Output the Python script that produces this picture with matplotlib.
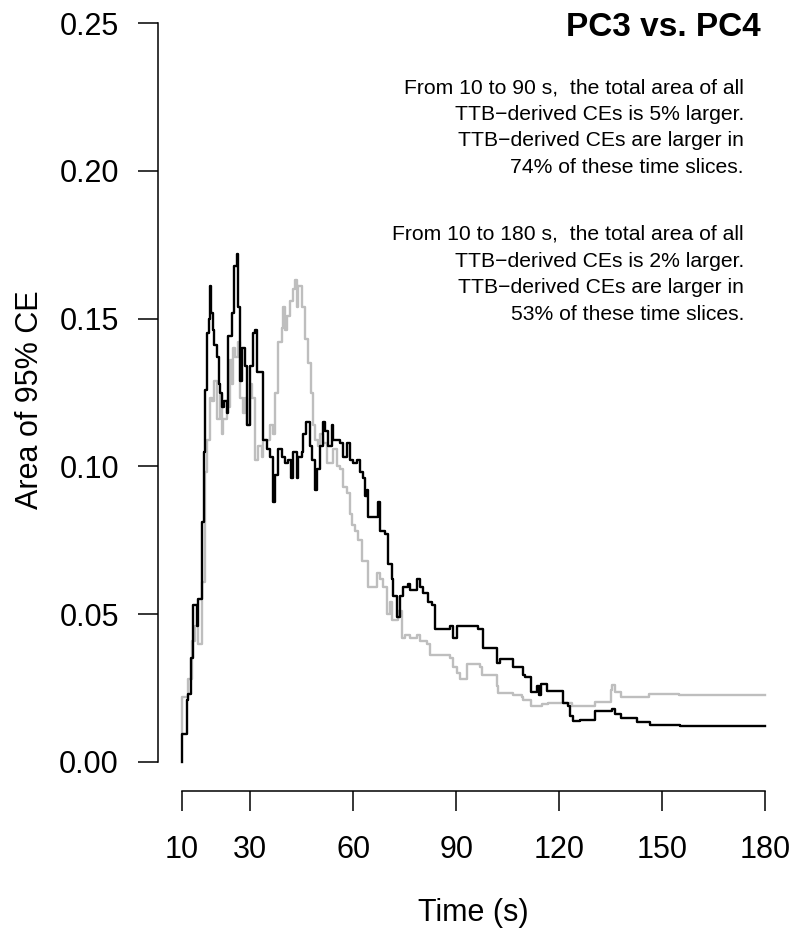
import matplotlib
matplotlib.use("Agg")
import matplotlib.pyplot as plt

plt.rcParams["font.family"] = ["Liberation Sans", "DejaVu Sans"]

# time (s) and area of the 95% CE
pc3_time = [10.00, 10.15, 11.46, 11.92, 12.57, 13.38, 14.37, 14.84, 15.83, 16.36,
            16.79, 17.29, 17.81, 18.25, 18.54, 18.98, 19.50, 20.20, 20.73, 21.17,
            21.66, 22.33, 23.12, 23.59, 24.58, 25.34, 26.03, 26.50, 27.00, 27.49,
            28.45, 28.95, 29.91, 30.87, 31.37, 31.87, 33.12, 33.79, 34.78, 35.76,
            36.71, 37.21, 38.16, 39.15, 40.12, 41.08, 41.78, 42.54, 43.53, 43.99,
            44.99, 45.45, 46.24, 46.91, 47.41, 47.90, 48.86, 49.36, 50.32, 51.28,
            51.78, 52.74, 53.73, 54.20, 55.19, 56.15, 57.11, 58.10, 59.07, 60.03,
            61.02, 61.98, 62.94, 63.44, 63.94, 64.40, 65.86, 67.32, 67.81, 69.27,
            70.23, 71.22, 71.69, 72.68, 73.64, 74.61, 76.06, 76.56, 78.51, 79.48,
            80.44, 81.90, 82.89, 83.85, 88.22, 89.18, 90.17, 93.56, 96.47, 97.93,
            101.84, 102.80, 106.68, 109.59, 110.09, 111.75, 113.50, 114.17, 114.75, 116.41,
            121.25, 122.71, 123.21, 124.17, 126.12, 130.50, 135.36, 136.33, 138.08, 142.83,
            146.53, 155.28, 180.00]
pc3_area = [0.000, 0.0095, 0.021, 0.023, 0.035, 0.053, 0.046, 0.055, 0.081, 0.105,
            0.126, 0.145, 0.150, 0.161, 0.152, 0.146, 0.141, 0.137, 0.128, 0.125,
            0.120, 0.122, 0.118, 0.144, 0.152, 0.168, 0.172, 0.154, 0.129, 0.140,
            0.134, 0.114, 0.134, 0.145, 0.146, 0.132, 0.132, 0.109, 0.106, 0.103,
            0.088, 0.097, 0.106, 0.103, 0.101, 0.102, 0.096, 0.105, 0.096, 0.103,
            0.105, 0.111, 0.115, 0.115, 0.107, 0.102, 0.092, 0.099, 0.107, 0.115,
            0.112, 0.107, 0.114, 0.109, 0.109, 0.108, 0.103, 0.108, 0.102, 0.101,
            0.102, 0.098, 0.096, 0.090, 0.092, 0.083, 0.083, 0.088, 0.078, 0.077,
            0.067, 0.062, 0.056, 0.049, 0.056, 0.059, 0.060, 0.058, 0.062, 0.059,
            0.057, 0.054, 0.053, 0.045, 0.046, 0.042, 0.046, 0.046, 0.045, 0.0385,
            0.0335, 0.0346, 0.032, 0.0295, 0.0285, 0.0235, 0.0255, 0.0227, 0.0264, 0.024,
            0.020, 0.019, 0.0153, 0.0137, 0.0142, 0.017, 0.018, 0.0163, 0.0148, 0.0134,
            0.0125, 0.012, 0.012]

pc4_time = [10.00, 10.15, 11.46, 11.92, 12.92, 13.88, 14.84, 15.83, 16.79, 17.29,
            18.25, 18.75, 19.50, 20.20, 21.17, 21.66, 22.13, 23.12, 24.08, 24.58,
            25.04, 25.54, 26.33, 27.00, 27.96, 28.45, 28.95, 29.91, 30.41, 31.37,
            32.33, 33.32, 33.79, 35.76, 36.71, 37.21, 38.16, 39.15, 39.62, 40.12,
            40.61, 41.57, 42.54, 43.03, 43.53, 43.99, 44.99, 45.95, 46.91, 47.61,
            48.19, 48.86, 49.83, 50.32, 51.28, 52.27, 54.20, 55.19, 56.15, 57.11,
            58.10, 59.07, 59.56, 60.52, 61.49, 62.48, 64.40, 66.85, 67.81, 68.78,
            69.77, 70.73, 71.22, 73.15, 74.14, 75.10, 76.56, 78.51, 79.48, 81.43,
            82.39, 88.22, 89.18, 90.17, 91.14, 93.27, 96.97, 97.64, 101.84, 102.30,
            106.68, 109.13, 109.59, 111.75, 114.46, 114.96, 116.88, 123.70, 127.08, 130.50,
            135.07, 135.45, 136.33, 138.08, 146.33, 155.07, 180.00]
pc4_area = [0.010, 0.022, 0.022, 0.028, 0.041, 0.046, 0.040, 0.061, 0.098, 0.109,
            0.123, 0.122, 0.129, 0.116, 0.124, 0.111, 0.116, 0.120, 0.136, 0.128,
            0.140, 0.137, 0.142, 0.123, 0.118, 0.123, 0.114, 0.128, 0.123, 0.102,
            0.107, 0.103, 0.109, 0.114, 0.111, 0.125, 0.142, 0.147, 0.154, 0.146,
            0.151, 0.156, 0.160, 0.163, 0.154, 0.161, 0.154, 0.143, 0.135, 0.125,
            0.114, 0.109, 0.107, 0.111, 0.108, 0.101, 0.106, 0.100, 0.099, 0.093,
            0.091, 0.084, 0.080, 0.078, 0.075, 0.068, 0.059, 0.064, 0.062, 0.059,
            0.050, 0.054, 0.048, 0.051, 0.042, 0.043, 0.042, 0.043, 0.041, 0.040,
            0.036, 0.035, 0.032, 0.030, 0.028, 0.033, 0.032, 0.0295, 0.0255, 0.0233,
            0.0227, 0.022, 0.021, 0.019, 0.0187, 0.0195, 0.020, 0.019, 0.0187, 0.0202,
            0.0244, 0.026, 0.0235, 0.022, 0.0228, 0.0226, 0.0226]

x_ticks = [10, 30, 60, 90, 120, 150, 180]
y_ticks = [0.00, 0.05, 0.10, 0.15, 0.20, 0.25]

title = "PC3 vs. PC4"
notes = [
    ["From 10 to 90 s,  the total area of all",
     "TTB\u2212derived CEs is 5% larger.",
     "TTB\u2212derived CEs are larger in",
     "74% of these time slices."],
    ["From 10 to 180 s,  the total area of all",
     "TTB\u2212derived CEs is 2% larger.",
     "TTB\u2212derived CEs are larger in",
     "53% of these time slices."],
]

W, H = 795, 943
fig = plt.figure(figsize=(W / 100, H / 100), dpi=100)

# plot region in pixels (R-style 4% padding around the data range)
left, right, top, bottom = 158.4, 788.3, -6.2, 791.2
ax = fig.add_axes([left / W, 1 - bottom / H, (right - left) / W, (bottom - top) / H])
ax.set_xlim(3.2, 186.8)
ax.set_ylim(-0.01, 0.26)

ax.plot(pc4_time, pc4_area, drawstyle="steps-post", color="#bebebe", lw=1.7)
ax.plot(pc3_time, pc3_area, drawstyle="steps-post", color="black", lw=1.7)

for side in ["top", "right"]:
    ax.spines[side].set_visible(False)
ax.spines["left"].set_bounds(0, 0.25)
ax.spines["bottom"].set_bounds(10, 180)
for side in ["left", "bottom"]:
    ax.spines[side].set_linewidth(1.1)

ax.set_xticks(x_ticks)
ax.set_yticks(y_ticks)
ax.set_yticklabels([f"{v:.2f}" for v in y_ticks])
ax.tick_params(direction="out", length=14.4, width=1.1, labelsize=22)
ax.tick_params(axis="x", pad=17)
ax.tick_params(axis="y", pad=14)

fig.text(473 / W, 1 - 913 / H, "Time (s)", fontsize=22, ha="center", va="center")
fig.text(30 / W, 1 - 400 / H, "Area of 95% CE", fontsize=22, rotation=90,
         ha="center", va="center")

fig.text(761 / W, 1 - 36 / H, title, fontsize=24, fontweight="bold",
         ha="right", va="baseline")

# annotation blocks, right aligned
for block, y0 in zip(notes, [93, 240]):
    for i, line in enumerate(block):
        fig.text(744 / W, 1 - (y0 + i * 26.7) / H, line, fontsize=15.2,
                 ha="right", va="baseline")

fig.savefig("out.png", dpi=100)
